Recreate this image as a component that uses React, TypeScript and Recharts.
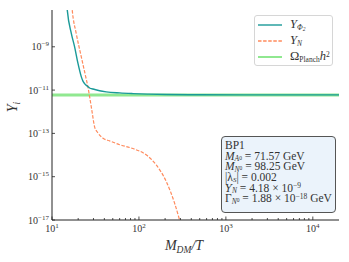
import React from "react";
import { ComposedChart, Line, XAxis, YAxis, ReferenceLine } from "recharts";

const tealX = [14.5, 15.0, 16.7, 18.2, 19.9, 21.7, 22.7, 23.7, 25.9, 27.1, 29.6, 35.3, 42, 60, 85, 130, 206, 500, 2000, 20000];
const tealY = [2.5e-7, 4.8e-8, 4.1e-9, 1e-9, 1.7e-10, 4.2e-11, 2.6e-11, 2.0e-11, 1.45e-11, 1.25e-11, 1.12e-11, 9.3e-12, 8.3e-12, 7.4e-12, 6.9e-12, 6.5e-12, 6.25e-12, 6.05e-12, 6.0e-12, 6.0e-12];

const orangeX = [16.5, 17.1, 19.0, 21.7, 24.4, 25.9, 27.1, 29.1, 30.9, 33.5, 38.6, 46, 60, 85, 122, 158, 206, 257, 293, 330];
const orangeY = [2.5e-7, 4.8e-8, 4.1e-9, 3.5e-10, 4.2e-11, 1.4e-11, 4.9e-12, 8.3e-13, 2.0e-13, 1.1e-13, 6.0e-14, 4.5e-14, 3.0e-14, 2.0e-14, 1e-14, 3.5e-15, 6e-16, 6e-17, 1e-17, 1.5e-18];

const planckY = 5.9e-12;

const xMajor = [10, 100, 1000, 10000];
const xMinor = [20, 30, 40, 50, 60, 70, 80, 90, 200, 300, 400, 500, 600, 700, 800, 900, 2000, 3000, 4000, 5000, 6000, 7000, 8000, 9000];
const xMajorExp = ["1", "2", "3", "4"];
const yMajor = [1e-17, 1e-15, 1e-13, 1e-11, 1e-9];
const yMajorExp = ["\u221217", "\u221215", "\u221213", "\u221211", "\u22129"];

const xDomain = [10, 20000];
const yDomain = [1e-17, 5e-8];

const tealData = tealX.map((x, i) => ({ x, y: tealY[i] }));
const orangeData = orangeX.map((x, i) => ({ x, y: orangeY[i] }));
const xTicks = [...xMajor, ...xMinor].sort((a, b) => a - b);

const FONT = "'Liberation Serif', 'DejaVu Serif', serif";
const SPINE = "#222";
const TEAL = "#1a9a98";
const ORANGE = "#ff8a5c";
const GREEN = "#90e890";

const BottomTick = (props: any) => {
  const { x, y, payload } = props;
  const idx = xMajor.indexOf(payload.value);
  const major = idx >= 0;
  return (
    <g>
      <line x1={x} y1={y} x2={x} y2={y - (major ? 3.5 : 2)} stroke={SPINE} strokeWidth={0.8} />
      {major && (
        <text x={x} y={y + 12} textAnchor="middle" fontFamily={FONT} fontSize={10} fill="#333">
          10<tspan dy={-4} fontSize={7}>{xMajorExp[idx]}</tspan>
        </text>
      )}
    </g>
  );
};

const TopTick = (props: any) => {
  const { x, y, payload } = props;
  const major = xMajor.indexOf(payload.value) >= 0;
  return <line x1={x} y1={y} x2={x} y2={y + (major ? 3.5 : 2)} stroke={SPINE} strokeWidth={0.8} />;
};

const LeftTick = (props: any) => {
  const { x, y, payload } = props;
  const idx = yMajor.indexOf(payload.value);
  return (
    <g>
      <line x1={x} y1={y} x2={x + 3} y2={y} stroke={SPINE} strokeWidth={0.8} />
      <text x={x - 3} y={y + 3.5} textAnchor="end" fontFamily={FONT} fontSize={10} fill="#333">
        10<tspan dy={-4} fontSize={7}>{yMajorExp[idx]}</tspan>
      </text>
    </g>
  );
};

const RightTick = (props: any) => {
  const { x, y } = props;
  return <line x1={x} y1={y} x2={x - 3} y2={y} stroke={SPINE} strokeWidth={0.8} />;
};

const sub = (t: string, size = 7.5, italic = true, top = 1.5) => (
  <span style={{ fontSize: size, position: "relative", top, fontStyle: italic ? "italic" : "normal" }}>{t}</span>
);
const sup = (t: string) => <span style={{ fontSize: 7.5, position: "relative", top: -3.5 }}>{t}</span>;
const zero = () => <span style={{ fontSize: 5.5, position: "relative", top: 0 }}>0</span>;

export default function App() {
  return (
    <div style={{ position: "absolute", left: 0, top: 0, width: 349, height: 262, background: "#fff" }}>
      <ComposedChart width={349} height={262} margin={{ top: 10, right: 10, bottom: 0, left: 0 }}>
        <XAxis
          xAxisId="b"
          type="number"
          dataKey="x"
          scale="log"
          domain={xDomain}
          allowDataOverflow
          ticks={xTicks}
          interval={0}
          tickSize={0}
          tickMargin={0}
          tick={<BottomTick />}
          tickLine={false}
          axisLine={{ stroke: SPINE, strokeWidth: 1 }}
          height={42}
          orientation="bottom"
        />
        <XAxis
          xAxisId="t"
          type="number"
          dataKey="x"
          scale="log"
          domain={xDomain}
          allowDataOverflow
          ticks={xTicks}
          interval={0}
          tickSize={0}
          tickMargin={0}
          tick={<TopTick />}
          tickLine={false}
          axisLine={{ stroke: SPINE, strokeWidth: 1 }}
          height={0}
          orientation="top"
        />
        <YAxis
          yAxisId="l"
          type="number"
          dataKey="y"
          scale="log"
          domain={yDomain}
          allowDataOverflow
          ticks={yMajor}
          interval={0}
          tickSize={0}
          tickMargin={0}
          tick={<LeftTick />}
          tickLine={false}
          axisLine={{ stroke: SPINE, strokeWidth: 1 }}
          width={52}
          orientation="left"
        />
        <YAxis
          yAxisId="r"
          type="number"
          dataKey="y"
          scale="log"
          domain={yDomain}
          allowDataOverflow
          ticks={yMajor}
          interval={0}
          tickSize={0}
          tickMargin={0}
          tick={<RightTick />}
          tickLine={false}
          axisLine={{ stroke: SPINE, strokeWidth: 1 }}
          width={0}
          orientation="right"
        />
        <ReferenceLine xAxisId="b" yAxisId="l" y={planckY} stroke={GREEN} strokeWidth={3} />
        <Line
          xAxisId="b"
          yAxisId="l"
          data={orangeData}
          dataKey="y"
          type="monotone"
          stroke={ORANGE}
          strokeWidth={1.2}
          strokeDasharray="3.5 1.6"
          dot={false}
          isAnimationActive={false}
        />
        <Line
          xAxisId="b"
          yAxisId="l"
          data={tealData}
          dataKey="y"
          type="monotone"
          stroke={TEAL}
          strokeWidth={1.4}
          dot={false}
          isAnimationActive={false}
        />
      </ComposedChart>

      {/* axis labels */}
      <div
        style={{
          position: "absolute",
          left: 13,
          top: 107,
          transform: "translate(-50%, -50%) rotate(-90deg)",
          fontFamily: FONT,
          fontSize: 14,
          fontStyle: "italic",
          color: "#333",
          whiteSpace: "nowrap",
          lineHeight: "16px",
        }}
      >
        Y<span style={{ fontSize: 9.5, position: "relative", top: 3 }}>i</span>
      </div>
      <div
        style={{
          position: "absolute",
          left: 184,
          top: 246,
          transform: "translate(-50%, -50%)",
          fontFamily: FONT,
          fontSize: 14,
          fontStyle: "italic",
          color: "#333",
          whiteSpace: "nowrap",
          lineHeight: "16px",
        }}
      >
        M<span style={{ fontSize: 9.5, position: "relative", top: 3 }}>DM</span>/T
      </div>

      {/* legend */}
      <div
        style={{
          position: "absolute",
          left: 254,
          top: 15,
          width: 79,
          height: 51,
          border: "1px solid #d6d6d6",
          borderRadius: 3,
          background: "#fff",
          fontFamily: FONT,
          color: "#333",
          boxSizing: "border-box",
        }}
      >
        {[
          { color: TEAL, dash: "", label: <span style={{ fontStyle: "italic" }}>Y{sub("\u03a6", 7.5, true, 2)}<span style={{ fontSize: 5.5, position: "relative", top: 3 }}>2</span></span> },
          { color: ORANGE, dash: "3.5 1.6", label: <span style={{ fontStyle: "italic" }}>Y{sub("N", 7.5, true, 2)}</span> },
          { color: GREEN, dash: "", label: <span>{"\u03a9"}{sub("Planch", 7.5, false, 2)}<i>h</i>{sup("2")}</span> },
        ].map((e, i) => (
          <div key={i} style={{ position: "absolute", left: 3, top: 2 + i * 16, height: 14, lineHeight: "14px", display: "flex", alignItems: "center" }}>
            <svg width={24} height={6} style={{ display: "block" }}>
              <line x1={0} y1={3} x2={24} y2={3} stroke={e.color} strokeWidth={i === 2 ? 2 : 1.4} strokeDasharray={e.dash} />
            </svg>
            <span style={{ marginLeft: 8, fontSize: 12.5, whiteSpace: "nowrap" }}>{e.label}</span>
          </div>
        ))}
      </div>

      {/* info box */}
      <div
        style={{
          position: "absolute",
          left: 221,
          top: 136,
          width: 115,
          height: 77,
          border: "1.2px solid #555",
          borderRadius: 4,
          background: "#ebf3fb",
          fontFamily: FONT,
          fontSize: 11.5,
          color: "#333",
          boxSizing: "border-box",
          padding: "3px 0 0 3px",
          whiteSpace: "nowrap",
        }}
      >
        {[
          <>BP1</>,
          <><i>M</i>{sub("A")}{zero()} = 71.57 GeV</>,
          <><i>M</i>{sub("N")}{zero()} = 98.25 GeV</>,
          <>|{"\u03bb"}{sub("S", 7, true, 1)}| = 0.002</>,
          <><span style={{ fontFamily: "'DejaVu Serif', serif", fontStyle: "italic", fontSize: 10.5 }}>Y</span>{sub("N")} = 4.18 {"\u00d7"} 10{sup("\u22129")}</>,
          <>{"\u0393"}{sub("N")}{zero()} = 1.88 {"\u00d7"} 10{sup("\u221218")} GeV</>,
        ].map((c, i) => (
          <div key={i} style={{ height: 10.7, lineHeight: "10.7px" }}>{c}</div>
        ))}
      </div>
    </div>
  );
}
